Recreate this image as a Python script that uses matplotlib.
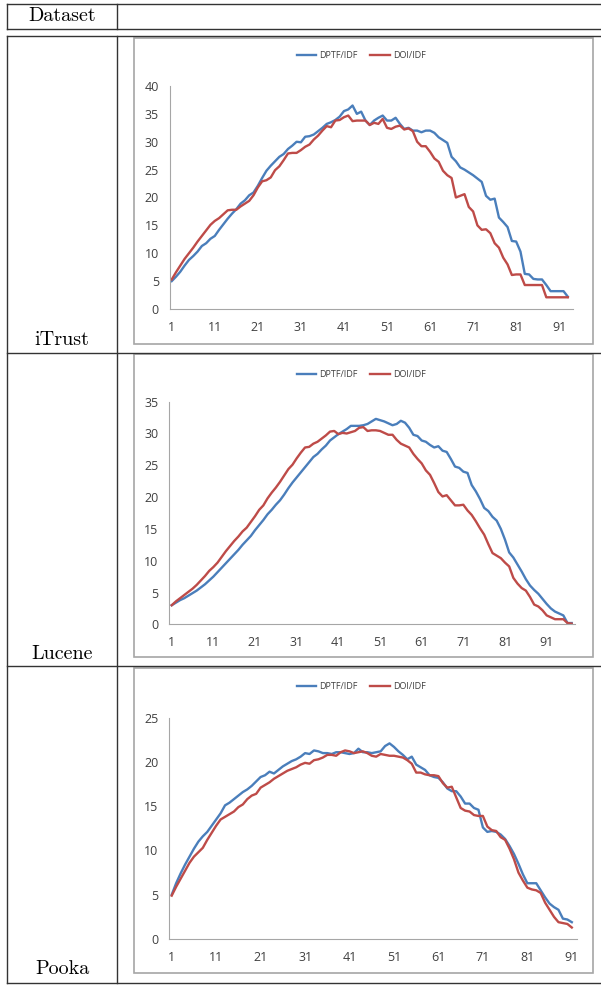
import numpy as np
import matplotlib
matplotlib.use('Agg')
import matplotlib.pyplot as plt
from matplotlib.lines import Line2D
from matplotlib.patches import Rectangle

# ---- data ----
datasets = ['iTrust', 'Lucene', 'Pooka']
series_names = ['DPTF/IDF', 'DOI/IDF']

itrust_dptf = [5.0, 5.8, 6.7, 7.8, 8.8, 9.5, 10.3, 11.3, 11.8, 12.6,
               13.1, 14.2, 15.2, 16.2, 17.1, 17.9, 18.9, 19.5, 20.4, 20.9,
               22.1, 23.5, 24.8, 25.7, 26.5, 27.3, 27.8, 28.7, 29.3, 30.0,
               29.9, 30.9, 31.0, 31.3, 31.9, 32.5, 33.2, 33.5, 33.9, 34.5,
               35.5, 35.8, 36.5, 35.0, 35.4, 33.8, 33.0, 33.8, 34.3, 34.7,
               33.8, 33.8, 34.3, 33.2, 32.3, 32.5, 32.0, 32.0, 31.7, 32.0,
               32.0, 31.6, 30.8, 30.3, 29.8, 27.3, 26.5, 25.4, 25.0, 24.5,
               24.0, 23.4, 22.8, 20.3, 19.6, 19.8, 16.4, 15.6, 14.7, 12.2,
               12.1, 10.3, 6.3, 6.2, 5.4, 5.3, 5.3, 4.3, 3.2, 3.2,
               3.2, 3.2, 2.2]
itrust_doi = [5.3, 6.6, 7.8, 9.0, 10.0, 11.0, 12.1, 13.1, 14.1, 15.1,
              15.8, 16.3, 17.0, 17.7, 17.8, 17.8, 18.4, 18.9, 19.4, 20.4,
              21.8, 22.9, 23.1, 23.6, 24.9, 25.6, 26.7, 27.9, 28.0, 28.0,
              28.5, 29.1, 29.5, 30.4, 31.1, 32.0, 32.8, 32.6, 33.8, 33.9,
              34.4, 34.7, 33.7, 33.8, 33.8, 33.8, 33.0, 33.4, 33.2, 34.1,
              32.5, 32.3, 32.7, 32.9, 32.2, 32.4, 31.9, 30.0, 29.2, 29.2,
              28.2, 27.0, 26.4, 24.8, 24.0, 23.5, 20.0, 20.3, 20.6, 18.3,
              17.5, 15.0, 14.2, 14.3, 13.6, 11.8, 11.0, 9.2, 8.0, 6.1,
              6.2, 6.2, 4.3, 4.3, 4.3, 4.3, 4.3, 2.1, 2.1, 2.1,
              2.1, 2.1, 2.1]

lucene_dptf = [3.0, 3.4, 3.8, 4.1, 4.5, 4.9, 5.3, 5.8, 6.3, 6.9,
               7.5, 8.2, 8.9, 9.6, 10.3, 11.0, 11.7, 12.5, 13.2, 13.9,
               14.8, 15.6, 16.4, 17.3, 18.0, 18.8, 19.5, 20.4, 21.4, 22.3,
               23.1, 23.9, 24.7, 25.5, 26.3, 26.8, 27.5, 28.1, 28.9, 29.4,
               29.9, 30.3, 30.7, 31.2, 31.2, 31.2, 31.3, 31.5, 31.9, 32.3,
               32.1, 31.9, 31.6, 31.3, 31.5, 32.0, 31.7, 30.9, 29.8, 29.6,
               28.9, 28.7, 28.2, 27.8, 28.0, 27.3, 27.1, 26.0, 24.8, 24.6,
               24.0, 23.8, 21.9, 20.9, 19.7, 18.3, 17.8, 16.9, 16.3, 15.0,
               13.3, 11.3, 10.5, 9.4, 8.3, 7.1, 6.1, 5.4, 4.8, 4.0,
               3.2, 2.5, 2.0, 1.7, 1.4, 0.2, 0.2]
lucene_doi = [3.0, 3.6, 4.1, 4.6, 5.1, 5.6, 6.2, 6.9, 7.6, 8.4,
              9.0, 9.7, 10.6, 11.5, 12.3, 13.1, 13.8, 14.6, 15.2, 16.1,
              17.0, 18.0, 18.7, 19.8, 20.7, 21.5, 22.4, 23.4, 24.4, 25.1,
              26.1, 27.0, 27.8, 27.9, 28.4, 28.7, 29.2, 29.7, 30.3, 30.4,
              29.9, 30.1, 30.0, 30.2, 30.4, 30.9, 31.0, 30.4, 30.5, 30.5,
              30.4, 30.1, 29.8, 29.8, 29.0, 28.4, 28.1, 27.8, 26.8, 26.0,
              25.3, 24.2, 23.5, 22.2, 20.8, 20.1, 20.3, 19.5, 18.7, 18.7,
              18.8, 17.9, 17.2, 16.2, 15.1, 14.1, 12.6, 11.2, 10.8, 10.4,
              9.7, 9.1, 7.3, 6.4, 5.7, 5.3, 4.3, 3.1, 2.8, 2.2,
              1.4, 1.1, 0.8, 0.8, 0.8, 0.2, 0.1]

pooka_dptf = [5.0, 6.3, 7.4, 8.4, 9.3, 10.2, 11.0, 11.6, 12.1, 12.8,
              13.5, 14.2, 15.1, 15.4, 15.8, 16.2, 16.6, 16.9, 17.3, 17.8,
              18.3, 18.5, 18.9, 18.7, 19.1, 19.5, 19.8, 20.1, 20.3, 20.6,
              21.0, 20.9, 21.3, 21.2, 21.0, 21.0, 20.9, 21.1, 21.1, 21.0,
              20.9, 21.0, 21.5, 21.1, 21.1, 21.0, 21.1, 21.2, 21.8, 22.1,
              21.7, 21.2, 20.8, 20.3, 20.6, 19.7, 19.4, 19.1, 18.5, 18.3,
              18.2, 17.7, 17.0, 16.7, 16.7, 16.1, 15.3, 15.3, 14.8, 14.6,
              12.6, 12.1, 12.2, 12.1, 11.8, 11.3, 10.5, 9.6, 8.5, 7.3,
              6.3, 6.3, 6.3, 5.5, 4.7, 4.0, 3.6, 3.3, 2.3, 2.2,
              1.9]
pooka_doi = [4.9, 5.9, 6.8, 7.7, 8.6, 9.3, 9.8, 10.3, 11.2, 12.0,
             12.8, 13.5, 13.8, 14.1, 14.4, 14.9, 15.2, 15.8, 16.2, 16.4,
             17.1, 17.4, 17.7, 18.1, 18.4, 18.7, 19.0, 19.2, 19.4, 19.7,
             19.9, 19.8, 20.2, 20.3, 20.5, 20.8, 20.8, 20.7, 21.1, 21.3,
             21.2, 21.0, 21.1, 21.2, 21.0, 20.7, 20.6, 20.9, 20.8, 20.7,
             20.7, 20.6, 20.5, 20.2, 19.8, 18.8, 18.8, 18.6, 18.5, 18.5,
             18.4, 17.6, 17.1, 17.2, 16.0, 14.8, 14.5, 14.4, 14.0, 13.9,
             13.9, 12.7, 12.3, 12.2, 11.5, 11.2, 10.2, 9.0, 7.5, 6.6,
             5.8, 5.6, 5.5, 5.2, 4.1, 3.3, 2.5, 1.9, 1.8, 1.7,
             1.3]

y_max = [40, 35, 25]

# ---- figure / table layout (pixel coords, y from top) ----
W, H = 601, 985
plt.rcParams['font.family'] = ['Open Sans', 'DejaVu Sans']
fig = plt.figure(figsize=(W / 100, H / 100), dpi=100)

def fx(x):
    return x / W

def fy(y):
    return 1 - y / H

def hline(y, x0=6.7, x1=601, color='#333333', lw=1.0):
    fig.add_artist(Line2D([fx(x0), fx(x1)], [fy(y), fy(y)], color=color, lw=lw))

def vline(x, y0, y1, color='#333333', lw=1.0):
    fig.add_artist(Line2D([fx(x), fx(x)], [fy(y0), fy(y1)], color=color, lw=lw))

# header row
hline(4.3)
hline(29.3)
vline(6.7, 4.3, 29.3)
vline(116.7, 4.3, 29.3)
fig.text(fx(62), fy(21.0), 'Dataset', family='cmr10', fontsize=14.5,
         ha='center', va='baseline')

# body
hline(36.0)
hline(352.7)
hline(666.0)
hline(982.7)
vline(6.7, 36.0, 982.7)
vline(116.7, 36.0, 982.7)

blue = '#4a7ebb'
red = '#be4b48'

charts = [
    # frame (x0, y0, x1, y1), axes (left, right, y of 0, y of max), xlim, legend y, label baseline
    ((134, 38, 593, 344), (170, 573, 309.0, 86.0), (0.6, 94.2), 55.5, 345.0,
     itrust_dptf, itrust_doi),
    ((134, 354, 593, 657), (169.3, 575, 624.3, 401.7), (0.42, 97.8), 374.3, 659.3,
     lucene_dptf, lucene_doi),
    ((134, 668, 593, 973), (169.3, 576.7, 939.0, 717.7), (0.46, 92.1), 686.7, 974.3,
     pooka_dptf, pooka_doi),
]

for k, (frame, axpos, xl, leg_y, lab_y, dptf, doi) in enumerate(charts):
    x0, y0, x1, y1 = frame
    fig.add_artist(Rectangle((fx(x0), fy(y1)), (x1 - x0) / W, (y1 - y0) / H,
                             transform=fig.transFigure, fill=False,
                             edgecolor='#a6a6a6', lw=1.2))
    left, right, ybot, ytop = axpos
    ax = fig.add_axes([fx(left), fy(ybot), (right - left) / W, (ybot - ytop) / H])
    n = len(dptf)
    x = np.arange(1, n + 1)
    ax.plot(x, dptf, color=blue, lw=1.7, label=series_names[0])
    ax.plot(x, doi, color=red, lw=1.7, label=series_names[1])
    ax.set_xlim(*xl)
    ax.set_ylim(0, y_max[k])
    ax.set_xticks(np.arange(1, n + 1, 10))
    ax.set_yticks(np.arange(0, y_max[k] + 1, 5))
    for s in ['top', 'right']:
        ax.spines[s].set_visible(False)
    for s in ['left', 'bottom']:
        ax.spines[s].set_color('#a6a6a6')
        ax.spines[s].set_linewidth(0.8)
    ax.tick_params(length=0, labelsize=9, colors='#404040')
    ax.tick_params(axis='y', pad=8)
    ax.tick_params(axis='x', pad=8.5)
    ax.set_facecolor('none')
    ax.legend(loc='center', bbox_to_anchor=(fx(361), fy(leg_y)),
              bbox_transform=fig.transFigure, ncol=2, frameon=False,
              fontsize=6.5, handlelength=2.2, handletextpad=0.3,
              columnspacing=1.4, labelcolor='#404040')
    fig.text(fx(62), fy(lab_y), datasets[k], family='cmr10', fontsize=14.5,
             ha='center', va='baseline')

fig.savefig('out.png', dpi=100)
